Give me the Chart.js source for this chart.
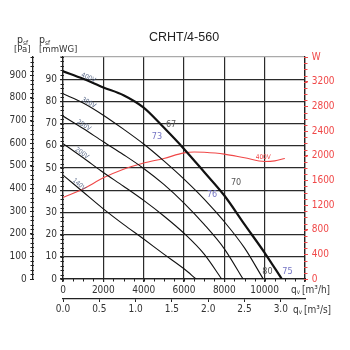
<!DOCTYPE html>
<html>
<head>
<meta charset="utf-8">
<script src="https://cdn.jsdelivr.net/npm/chart.js@4.4.1/dist/chart.umd.min.js"></script>
<style>
  html, body { margin: 0; padding: 0; background: #fff; }
</style>
</head>
<body>
<canvas id="fanChart" width="350" height="350"></canvas>
<script>
// Curvas do ventilador: vazão (m3/h) x pressão estática (mmWG)
const flow400 = [0, 1000, 2000, 3000, 4000, 5000, 6000, 7000, 8000, 9000, 10000, 10850];
const press400 = [93.6, 90.2, 86.3, 82.8, 77.2, 68.2, 58.6, 48.2, 37.6, 24.6, 11.8, 0];
const flow300 = [0, 1000, 2000, 3000, 4000, 5000, 6000, 7000, 8000, 9000, 9930];
const press300 = [83.5, 79.3, 73.8, 67.5, 60.8, 53.2, 45, 36, 25.8, 14, 0];
const flow250 = [0, 1000, 2000, 3000, 4000, 5000, 6000, 7000, 8000, 8930];
const press250 = [73.4, 67.8, 61.8, 56, 49.8, 42.6, 34.2, 24.6, 13.6, 0];
const flow200 = [0, 1000, 2000, 3000, 4000, 5000, 6000, 7000, 7870];
const press200 = [61, 54.6, 48, 41.8, 35.4, 28.4, 20.6, 11.2, 0];
const flow140 = [0, 1000, 2000, 3000, 4000, 5000, 6000, 6600];
const press140 = [46.8, 39.2, 31.6, 24.6, 18, 11.2, 4.6, 0];

// Potência absorvida (W) a 400V
const flowPower = [0, 1000, 2000, 3000, 4000, 5000, 6000, 6500, 7000, 8000, 9000, 10000, 10500, 11000];
const power400 = [1320, 1460, 1640, 1780, 1880, 1955, 2045, 2060, 2055, 2025, 1965, 1905, 1915, 1955];

// Rótulos das curvas
const voltLabels = ['400V', '300V', '250V', '200V', '140V'];
const voltLabelFlow = [1200, 1200, 950, 850, 700];

// Rótulos de ruído / rendimento
const noteText = ['67', '73', '70', '76', '80', '75'];
const noteFlow = [5360, 4660, 8580, 7390, 10140, 11130];
const notePress = [69.4, 63.9, 43.2, 37.9, 3.3, 3.3];

const FONT = "'DejaVu Sans Condensed', 'Liberation Sans Narrow', sans-serif";
const INK = '#333';
const RED = '#f04848';

const toPts = (xs, ys) => xs.map((x, i) => ({ x: x, y: ys[i] }));

function valueAt(xs, ys, f) {
    for (let i = 1; i < xs.length; i++) {
        if (f <= xs[i]) {
            const t = (f - xs[i - 1]) / (xs[i] - xs[i - 1]);
            return ys[i - 1] + t * (ys[i] - ys[i - 1]);
        }
    }
    return ys[ys.length - 1];
}

function subText(ctx, x, y, base, sub, rest, size) {
    ctx.font = size + 'px ' + FONT;
    ctx.fillText(base, x, y);
    let w = ctx.measureText(base).width;
    ctx.font = (size * 0.62) + 'px ' + FONT;
    ctx.fillText(sub, x + w, y + size * 0.22);
    w += ctx.measureText(sub).width;
    if (rest) {
        ctx.font = size + 'px ' + FONT;
        ctx.fillText(rest, x + w + 2, y);
    }
}

const curves = [
    [flow400, press400],
    [flow300, press300],
    [flow250, press250],
    [flow200, press200],
    [flow140, press140],
];

const extras = {
    id: 'extras',
    afterDraw(chart) {
        const ctx = chart.ctx;
        const { x, y, pa, w, xs } = chart.scales;
        const area = chart.chartArea;
        ctx.save();

        // marcas menores nos eixos
        ctx.strokeStyle = '#222';
        ctx.lineWidth = 1;
        ctx.beginPath();
        for (let v = 0; v <= 980; v += 20) {
            const py = Math.round(pa.getPixelForValue(v)) + 0.5;
            ctx.moveTo(pa.right - 2.5, py); ctx.lineTo(pa.right + 1, py);
        }
        for (let v = 0; v <= 100; v += 2) {
            const py = Math.round(y.getPixelForValue(v)) + 0.5;
            ctx.moveTo(area.left - 2.5, py); ctx.lineTo(area.left + 1, py);
        }
        for (let v = 0; v <= 12000; v += 500) {
            const px = Math.round(x.getPixelForValue(v)) + 0.5;
            ctx.moveTo(px, area.bottom - 1); ctx.lineTo(px, area.bottom + 2.5);
        }
        ctx.stroke();
        ctx.strokeStyle = RED;
        ctx.beginPath();
        for (let v = 0; v <= 3600; v += 100) {
            const py = Math.round(w.getPixelForValue(v)) + 0.5;
            ctx.moveTo(w.left - 1, py); ctx.lineTo(w.left + 2.5, py);
        }
        ctx.stroke();

        // rótulos de tensão sobre as curvas
        ctx.fillStyle = '#5a6a8a';
        ctx.font = '6.5px ' + FONT;
        ctx.textAlign = 'center';
        ctx.textBaseline = 'middle';
        curves.forEach((c, i) => {
            const f = voltLabelFlow[i];
            const x0 = x.getPixelForValue(f - 300), y0 = y.getPixelForValue(valueAt(c[0], c[1], f - 300));
            const x1 = x.getPixelForValue(f + 300), y1 = y.getPixelForValue(valueAt(c[0], c[1], f + 300));
            const ang = Math.atan2(y1 - y0, x1 - x0);
            const px = x.getPixelForValue(f), py = y.getPixelForValue(valueAt(c[0], c[1], f));
            ctx.save();
            ctx.translate(px + 3 * Math.sin(ang), py - 3 * Math.cos(ang));
            ctx.rotate(ang);
            ctx.fillText(voltLabels[i], 0, 0);
            ctx.restore();
        });

        // rótulo da curva de potência
        ctx.fillStyle = RED;
        const fp = 9930;
        ctx.fillText('400V', x.getPixelForValue(fp), w.getPixelForValue(valueAt(flowPower, power400, fp)) - 4);

        // rótulos de ruído
        ctx.font = '9px ' + FONT;
        noteText.forEach((t, i) => {
            ctx.fillStyle = i % 2 === 0 ? '#555' : '#7474c4';
            ctx.fillText(t, x.getPixelForValue(noteFlow[i]), y.getPixelForValue(notePress[i]));
        });

        // títulos dos eixos
        ctx.fillStyle = INK;
        ctx.textAlign = 'left';
        ctx.textBaseline = 'alphabetic';
        subText(ctx, pa.left + 17, area.top - 14, 'p', 'sf', '', 10.5);
        ctx.font = '9.5px ' + FONT;
        ctx.fillText('[Pa]', pa.left + 14, area.top - 5);
        subText(ctx, pa.right + 6, area.top - 14, 'p', 'sf', '', 10.5);
        ctx.font = '9.5px ' + FONT;
        ctx.fillText('[mmWG]', pa.right + 6, area.top - 5);

        ctx.textBaseline = 'middle';
        subText(ctx, area.right - 14, x.top + 11.5, 'q', 'v', '[m\u00B3/h]', 10);
        subText(ctx, area.right - 12, xs.top + 11, 'q', 'v', '[m\u00B3/s]', 10);
        ctx.restore();
    }
};

const tickFont = { family: FONT, size: 10 };

new Chart(document.getElementById('fanChart'), {
    type: 'line',
    data: {
        datasets: [
            { data: toPts(flow400, press400), borderColor: '#111', borderWidth: 2.2, yAxisID: 'y' },
            { data: toPts(flow300, press300), borderColor: '#111', borderWidth: 1.1, yAxisID: 'y' },
            { data: toPts(flow250, press250), borderColor: '#111', borderWidth: 1.1, yAxisID: 'y' },
            { data: toPts(flow200, press200), borderColor: '#111', borderWidth: 1.1, yAxisID: 'y' },
            { data: toPts(flow140, press140), borderColor: '#111', borderWidth: 1.1, yAxisID: 'y' },
            { data: toPts(flowPower, power400), borderColor: RED, borderWidth: 1.1, yAxisID: 'w' },
        ],
    },
    options: {
        responsive: false,
        animation: false,
        events: [],
        elements: { point: { radius: 0 }, line: { cubicInterpolationMode: 'monotone' } },
        layout: { padding: { left: 0, right: 0, top: 0, bottom: 29 } },
        plugins: {
            legend: { display: false },
            tooltip: { enabled: false },
            title: {
                display: true,
                text: 'CRHT/4-560',
                fullSize: false,
                color: '#222',
                font: { family: "'Liberation Sans', Arial, sans-serif", size: 12.5, weight: 'normal' },
                padding: { top: 30, bottom: 12 },
            },
        },
        scales: {
            x: {
                type: 'linear', position: 'bottom', min: 0, max: 12000,
                afterFit: (s) => { s.height = 20; },
                grid: { color: '#2b2b2b', lineWidth: 1.2, tickLength: 3 },
                border: { color: '#222', width: 1.3 },
                ticks: { stepSize: 2000, color: INK, font: tickFont, padding: 2, maxRotation: 0,
                    callback: (v) => (v === 12000 ? '' : v) },
            },
            xs: {
                type: 'linear', position: 'bottom', min: 0, max: 12000 / 3600,
                afterFit: (s) => { s.height = 22; },
                grid: { drawOnChartArea: false, color: '#222', tickLength: 3 },
                border: { color: '#222', width: 1.3 },
                ticks: { stepSize: 0.5, includeBounds: false, color: INK, font: tickFont, padding: 1.5, maxRotation: 0,
                    callback: (v) => v.toFixed(1) },
            },
            y: {
                type: 'linear', position: 'left', min: 0, max: 100, weight: 0,
                afterFit: (s) => { s.width = 30; },
                grid: {
                    color: (c) => (c.tick && c.tick.value === 100 ? '#aaa' : '#2b2b2b'),
                    lineWidth: 1.2, tickLength: 3,
                },
                border: { color: '#222', width: 1.3 },
                ticks: { stepSize: 10, color: INK, font: tickFont, padding: 3,
                    callback: (v) => (v === 100 ? '' : v) },
            },
            pa: {
                type: 'linear', position: 'left', min: 0, max: 980.665, weight: 1,
                afterFit: (s) => { s.width = 33; },
                grid: { drawOnChartArea: false, color: '#222', tickLength: 3 },
                border: { color: '#222', width: 1.3 },
                ticks: { stepSize: 100, includeBounds: false, color: INK, font: tickFont, padding: 3.3 },
            },
            w: {
                type: 'linear', position: 'right', min: 0, max: 3600,
                afterFit: (s) => { s.width = 45; },
                grid: { drawOnChartArea: false, color: RED, tickLength: 3 },
                border: { color: '#222', width: 1.3 },
                ticks: { stepSize: 400, color: RED, font: tickFont, padding: 3.7,
                    callback: (v) => (v === 3600 ? 'W' : v) },
            },
        },
    },
    plugins: [extras],
});
</script>
</body>
</html>
